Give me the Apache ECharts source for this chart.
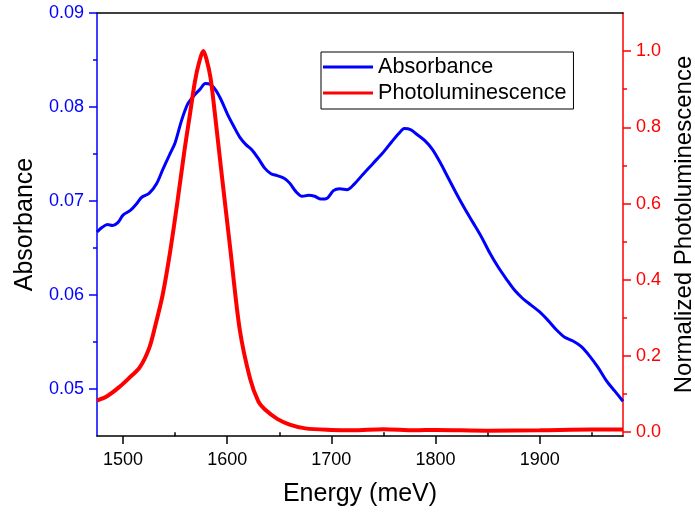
<!DOCTYPE html>
<html>
<head>
<meta charset="utf-8">
<script src="https://cdn.jsdelivr.net/npm/echarts@6/dist/echarts.min.js"></script>
<style>
  html, body { margin: 0; padding: 0; background: #fff; }
  #chart { width: 695px; height: 513px; }
</style>
</head>
<body>
<div id="chart"></div>
<script>
  // absorbance (left axis)
  const absEnergy = [1475, 1480, 1485, 1490, 1495, 1500, 1507, 1513, 1518, 1525, 1532, 1538, 1545, 1550, 1556, 1562, 1568, 1574, 1579, 1584, 1589, 1594, 1600, 1606, 1612, 1618, 1624, 1630, 1636, 1642, 1648, 1655, 1660, 1666, 1672, 1678, 1684, 1690, 1696, 1702, 1708, 1715, 1722, 1730, 1740, 1750, 1758, 1765, 1770, 1776, 1782, 1790, 1797, 1804, 1812, 1820, 1828, 1836, 1844, 1852, 1860, 1868, 1876, 1884, 1892, 1900, 1908, 1916, 1924, 1932, 1940, 1948, 1956, 1964, 1972, 1980]
  const absValue = [0.0667, 0.0672, 0.0675, 0.0674, 0.0677, 0.0685, 0.0690, 0.0697, 0.0704, 0.0708, 0.0718, 0.0733, 0.0750, 0.0762, 0.0785, 0.0803, 0.0812, 0.0819, 0.0825, 0.0824, 0.0818, 0.0808, 0.0793, 0.0780, 0.0768, 0.0760, 0.0754, 0.0745, 0.0735, 0.0729, 0.0727, 0.0724, 0.0719, 0.0710, 0.0705, 0.0706, 0.0705, 0.0702, 0.0703, 0.0711, 0.0713, 0.0712, 0.0718, 0.0728, 0.0740, 0.0752, 0.0763, 0.0772, 0.0777, 0.0776, 0.0771, 0.0764, 0.0755, 0.0742, 0.0725, 0.0708, 0.0692, 0.0677, 0.0662, 0.0645, 0.0630, 0.0617, 0.0605, 0.0596, 0.0589, 0.0582, 0.0573, 0.0563, 0.0555, 0.0551, 0.0545, 0.0535, 0.0523, 0.0509, 0.0498, 0.0487]

  // normalized photoluminescence (right axis)
  const plEnergy = [1475, 1485, 1497, 1505, 1516, 1525, 1531, 1538, 1545, 1552, 1559, 1564, 1569, 1573, 1577, 1580, 1584, 1588, 1595, 1603, 1612, 1622, 1630, 1636, 1648, 1660, 1675, 1700, 1720, 1750, 1780, 1800, 1850, 1900, 1950, 1980]
  const plValue = [0.083, 0.095, 0.12, 0.14, 0.17, 0.22, 0.28, 0.36, 0.47, 0.60, 0.74, 0.83, 0.92, 0.97, 1.0, 0.98, 0.93, 0.84, 0.67, 0.48, 0.27, 0.14, 0.08, 0.06, 0.035, 0.02, 0.01, 0.006, 0.005, 0.008, 0.005, 0.006, 0.004, 0.005, 0.007, 0.007]

  const xMajor = [1500, 1600, 1700, 1800, 1900]
  const xMinor = [1550, 1650, 1750, 1850, 1950]
  const absMajor = [0.05, 0.06, 0.07, 0.08, 0.09]
  const absMinor = [0.055, 0.065, 0.075, 0.085]
  const plMajor = [0, 0.2, 0.4, 0.6, 0.8, 1.0]
  const plMinor = [0.1, 0.3, 0.5, 0.7, 0.9]

  const font = "'Liberation Sans', Arial, sans-serif"
  const blue = '#0000ff'
  const red = '#ff0000'

  const chart = echarts.init(document.getElementById('chart'))

  function tickAxis(extra) {
    return Object.assign({
      type: 'value',
      splitLine: {show: false},
      axisLabel: {show: false},
      axisTick: {show: false},
      axisLine: {show: false}
    }, extra)
  }

  let option = {
    animation: false,
    backgroundColor: '#fff',
    grid: {left: 97, right: 72, top: 13, bottom: 77, containLabel: false, outerBoundsMode: 'none'},
    legend: {
      left: 321, top: 52,
      orient: 'vertical',
      padding: [4, 7, 5, 2],
      itemGap: 4,
      itemWidth: 50,
      itemHeight: 3,
      itemTextGap: 6,
      icon: 'rect',
      borderColor: '#000',
      borderWidth: 1,
      textStyle: {fontFamily: font, fontSize: 21.6, color: '#000'},
      data: ['Absorbance', 'Photoluminescence']
    },
    xAxis: [
      tickAxis({
        position: 'bottom', min: 1475, max: 1980,
        name: 'Energy (meV)', nameLocation: 'middle', nameGap: 46,
        nameTextStyle: {fontFamily: font, fontSize: 25, color: '#000'},
        axisLine: {show: true, onZero: false, lineStyle: {color: '#000', width: 1.5}},
        axisTick: {show: true, inside: false, length: 8, customValues: xMajor, lineStyle: {color: '#000', width: 1.5}},
        axisLabel: {show: true, margin: 15, customValues: xMajor, fontFamily: font, fontSize: 18, color: '#000',
          formatter: v => String(v)}
      }),
      tickAxis({
        position: 'bottom', min: 1475, max: 1980,
        axisTick: {show: true, inside: false, length: 4, customValues: xMinor, lineStyle: {color: '#000', width: 1.5}}
      }),
      tickAxis({
        position: 'top', min: 1475, max: 1980,
        axisLine: {show: true, onZero: false, lineStyle: {color: '#000', width: 1.5}}
      })
    ],
    yAxis: [
      tickAxis({
        position: 'left', min: 0.045, max: 0.09,
        name: 'Absorbance', nameLocation: 'middle', nameGap: 55,
        nameTextStyle: {fontFamily: font, fontSize: 25, color: '#000'},
        axisLine: {show: true, onZero: false, lineStyle: {color: blue, width: 1.5}},
        axisTick: {show: true, inside: false, length: 8, customValues: absMajor, lineStyle: {color: blue, width: 1.5}},
        axisLabel: {show: true, margin: 13, customValues: absMajor, fontFamily: font, fontSize: 18, color: blue,
          formatter: v => v.toFixed(2)}
      }),
      tickAxis({
        position: 'left', min: 0.045, max: 0.09,
        axisTick: {show: true, inside: false, length: 4, customValues: absMinor, lineStyle: {color: blue, width: 1.5}}
      }),
      tickAxis({
        position: 'right', min: -0.01, max: 1.1,
        name: 'Normalized Photoluminescence', nameLocation: 'middle', nameGap: 45,
        nameTextStyle: {fontFamily: font, fontSize: 24, color: '#000'},
        axisLine: {show: true, onZero: false, lineStyle: {color: red, width: 1.5}},
        axisTick: {show: true, inside: false, length: 8, customValues: plMajor, lineStyle: {color: red, width: 1.5}},
        axisLabel: {show: true, margin: 13, customValues: plMajor, fontFamily: font, fontSize: 18, color: red,
          formatter: v => v.toFixed(1)}
      }),
      tickAxis({
        position: 'right', min: -0.01, max: 1.1,
        axisTick: {show: true, inside: false, length: 4, customValues: plMinor, lineStyle: {color: red, width: 1.5}}
      })
    ],
    series: [
      {
        name: 'Absorbance',
        type: 'line',
        xAxisIndex: 0,
        yAxisIndex: 0,
        smooth: 0.3,
        showSymbol: false,
        color: blue,
        lineStyle: {color: blue, width: 3},
        data: absEnergy.map((e, i) => [e, absValue[i]])
      },
      {
        name: 'Photoluminescence',
        type: 'line',
        xAxisIndex: 0,
        yAxisIndex: 2,
        smooth: 0.3,
        showSymbol: false,
        color: red,
        lineStyle: {color: red, width: 4},
        data: plEnergy.map((e, i) => [e, plValue[i]])
      }
    ]
  }
  chart.setOption(option)
</script>
</body>
</html>
